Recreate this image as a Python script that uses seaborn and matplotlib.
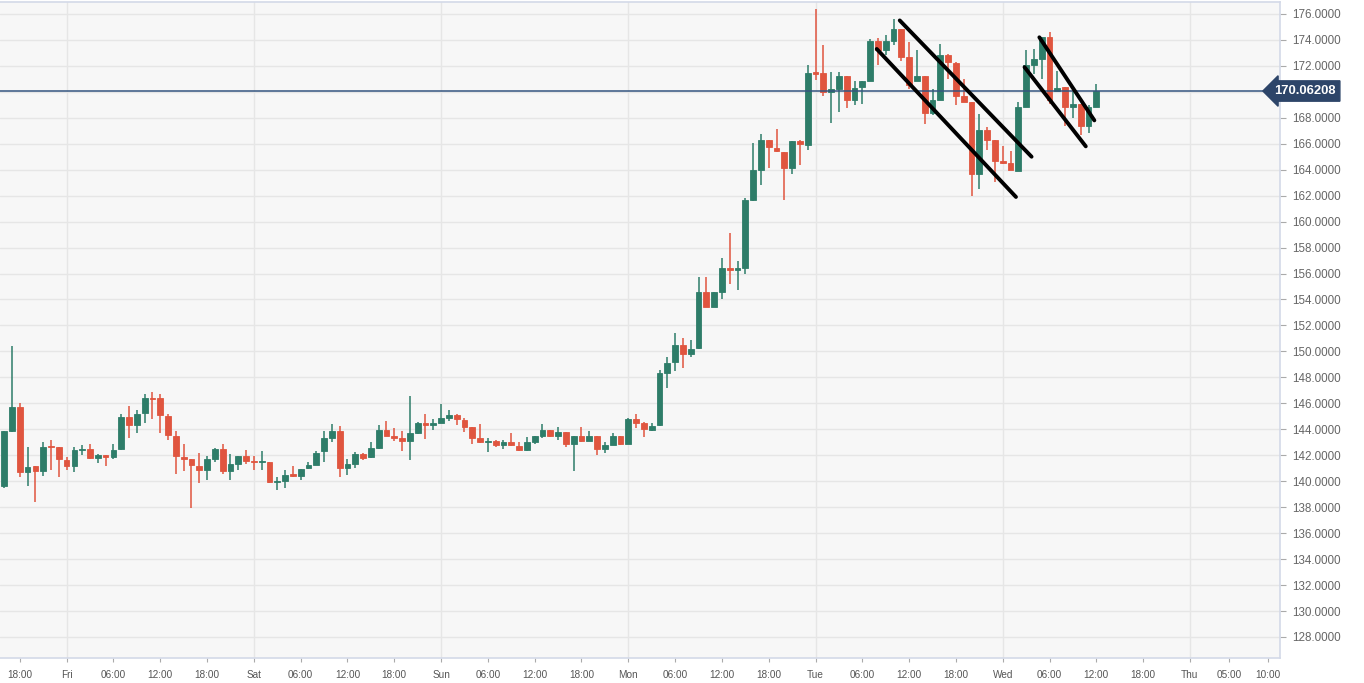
import numpy as np
import pandas as pd
import matplotlib
matplotlib.use("Agg")
import matplotlib.pyplot as plt
import matplotlib.transforms as mtransforms
import seaborn as sns

# hourly candles, first one at Thu 16:00 (hours counted from Thu 00:00)
start_hour = 16

opens = [139.6, 143.9, 145.7, 140.7, 141.15, 140.8, 142.7, 142.6, 141.6, 141.2,
         142.4, 142.5, 141.8, 142.0, 141.9, 142.45, 144.95, 144.3, 145.25, 146.4,
         146.4, 145.0, 143.5, 141.9, 141.7, 141.2, 140.9, 141.75, 142.45, 140.8,
         141.3, 141.95, 141.5, 141.5, 141.5, 139.95, 140.0, 140.55, 140.4, 141.0,
         141.25, 142.3, 143.35, 143.9, 141.05, 141.35, 142.1, 141.85, 142.55, 143.95,
         143.5, 143.35, 143.1, 143.7, 144.45, 144.3, 144.5, 144.9, 145.1, 144.75,
         144.15, 143.3, 143.0, 143.1, 142.8, 143.0, 142.75, 142.4, 143.05, 143.5,
         143.95, 143.45, 143.8, 142.85, 143.5, 143.1, 143.5, 142.5, 142.8, 143.45,
         142.9, 144.8, 144.45, 143.95, 144.3, 148.35, 149.15, 150.5, 149.8, 150.25,
         154.6, 153.45, 154.55, 156.45, 156.3, 156.4, 161.65, 163.95, 166.25, 165.7,
         165.35, 164.15, 166.2, 165.9, 171.5, 171.45, 169.95, 170.25, 171.25, 169.4,
         170.35, 170.8, 173.95, 173.25, 173.95, 174.85, 172.65, 170.8, 171.2, 168.35,
         169.35, 172.8, 172.2, 169.65, 169.25, 163.65, 167.05, 166.3, 164.65, 164.5,
         163.9, 168.8, 172.1, 172.55, 174.2, 170.1, 170.35, 168.8, 169.1, 167.4,
         168.8]
highs = [143.9, 150.4, 146.0, 142.6, 141.15, 143.0, 143.2, 142.6, 141.9, 142.6,
         142.8, 142.9, 142.1, 142.05, 142.9, 145.15, 145.8, 145.5, 146.75, 146.9,
         146.75, 145.2, 143.9, 142.9, 141.7, 142.2, 141.95, 142.55, 142.9, 142.1,
         141.95, 142.4, 141.95, 142.35, 141.5, 140.3, 140.85, 141.15, 140.95, 141.5,
         142.3, 143.9, 144.4, 144.25, 141.7, 142.25, 142.15, 143.05, 144.35, 144.65,
         144.1, 143.9, 146.6, 144.55, 145.2, 144.8, 145.95, 145.45, 145.2, 144.9,
         144.15, 144.4, 143.3, 143.2, 143.15, 143.7, 143.05, 143.4, 143.5, 144.4,
         143.95, 144.15, 143.8, 143.5, 144.15, 143.9, 143.5, 143.05, 143.75, 143.5,
         144.9, 145.2, 144.6, 144.45, 148.6, 149.55, 151.45, 151.0, 150.85, 155.75,
         155.75, 154.55, 157.2, 159.1, 156.95, 161.8, 166.05, 166.75, 166.25, 167.15,
         165.35, 166.2, 166.25, 172.1, 176.4, 173.6, 171.5, 171.5, 171.25, 170.85,
         170.8, 174.1, 174.15, 174.35, 175.6, 174.85, 173.8, 173.2, 171.2, 170.25,
         173.7, 172.9, 172.3, 171.0, 169.25, 168.3, 167.3, 166.3, 165.85, 165.45,
         169.2, 173.2, 173.3, 174.25, 174.6, 171.6, 170.4, 170.1, 169.1, 168.95,
         170.6]
lows = [139.5, 143.8, 140.3, 139.6, 138.4, 140.4, 140.9, 140.3, 140.9, 140.7,
        142.05, 141.7, 141.4, 141.2, 141.7, 142.4, 143.3, 143.7, 144.5, 144.8,
        143.7, 143.2, 140.55, 140.8, 137.9, 139.9, 140.1, 141.5, 140.55, 140.1,
        140.85, 141.35, 140.85, 140.9, 139.9, 139.3, 139.5, 140.3, 140.1, 140.95,
        141.25, 141.5, 143.0, 140.3, 140.45, 141.05, 141.6, 141.8, 142.5, 143.5,
        143.1, 142.35, 141.65, 143.65, 143.25, 143.95, 144.5, 144.65, 144.35, 143.8,
        142.85, 142.95, 142.25, 142.6, 142.5, 142.75, 142.35, 142.3, 142.85, 143.35,
        143.4, 143.2, 142.6, 140.75, 143.0, 143.1, 142.05, 142.15, 142.8, 142.8,
        142.9, 144.1, 143.4, 143.9, 144.25, 147.15, 148.5, 148.75, 149.55, 150.2,
        153.45, 153.4, 154.0, 155.2, 154.75, 156.0, 161.6, 162.8, 164.1, 165.35,
        161.7, 163.7, 164.35, 165.5, 170.9, 169.7, 167.6, 168.45, 168.75, 168.95,
        169.1, 170.8, 172.05, 172.8, 173.6, 172.4, 170.25, 170.8, 167.55, 168.2,
        169.35, 171.0, 168.95, 169.25, 161.95, 162.55, 165.5, 163.05, 164.45, 163.95,
        163.9, 168.8, 171.4, 171.0, 169.05, 170.1, 167.35, 168.0, 166.65, 166.8,
        168.8]
closes = [143.9, 145.7, 140.7, 141.1, 140.8, 142.6, 142.6, 141.7, 141.2, 142.4,
          142.5, 141.8, 142.0, 141.9, 142.4, 144.95, 144.3, 145.2, 146.4, 146.35,
          145.1, 143.55, 141.95, 141.75, 141.25, 140.9, 141.7, 142.45, 140.8, 141.3,
          141.95, 141.55, 141.45, 141.55, 139.95, 140.05, 140.5, 140.4, 140.95, 141.25,
          142.2, 143.3, 143.9, 141.05, 141.35, 142.1, 141.8, 142.55, 143.95, 143.5,
          143.35, 143.1, 143.7, 144.45, 144.3, 144.5, 144.9, 145.1, 144.8, 144.2,
          143.3, 143.0, 143.1, 142.8, 143.0, 142.8, 142.4, 143.05, 143.5, 143.95,
          143.45, 143.8, 142.85, 143.5, 143.1, 143.5, 142.5, 142.8, 143.45, 142.9,
          144.8, 144.45, 144.0, 144.25, 148.3, 149.1, 150.5, 149.8, 150.2, 154.6,
          153.45, 154.55, 156.45, 156.3, 156.4, 161.65, 163.95, 166.25, 165.75, 165.45,
          164.15, 166.2, 165.95, 171.45, 171.4, 169.95, 170.25, 171.25, 169.4, 170.3,
          170.8, 173.95, 173.25, 173.95, 174.85, 172.65, 170.5, 171.2, 168.35, 169.35,
          172.8, 172.3, 169.65, 169.25, 163.7, 167.05, 166.3, 164.65, 164.5, 163.95,
          168.8, 172.1, 172.55, 174.2, 169.35, 170.3, 168.8, 169.1, 167.4, 168.8,
          170.1]

last_price = 170.06208

# hand-drawn trend channels: (hour, price) start -> end
trend_lines = [
    ((130.8, 175.5), (147.7, 165.0)),
    ((127.85, 173.3), (145.7, 161.9)),
    ((148.7, 174.2), (155.75, 167.8)),
    ((146.8, 171.9), (154.65, 165.8)),
]

day_hours = [24, 48, 72, 96, 120, 144, 168]
day_labels = ["Fri", "Sat", "Sun", "Mon", "Tue", "Wed", "Thu"]
hour_ticks = [18, 30, 36, 42, 54, 60, 66, 78, 84, 90, 102, 108, 114,
              126, 132, 138, 150, 156, 162, 173, 178]
hour_labels = ["18:00", "06:00", "12:00", "18:00", "06:00", "12:00", "18:00",
               "06:00", "12:00", "18:00", "06:00", "12:00", "18:00",
               "06:00", "12:00", "18:00", "06:00", "12:00", "18:00",
               "05:00", "10:00"]
price_ticks = list(range(128, 177, 2))

UP = "#2e7d69"
DOWN = "#e0553f"
BG = "#f7f7f7"
GRID = "#e6e6e6"
FRAME = "#d3d9e8"
TAG = "#2d4569"

df = pd.DataFrame({"open": opens, "high": highs, "low": lows, "close": closes})
df["hour"] = start_hour + np.arange(len(df))
df["up"] = df["close"] >= df["open"]

sns.set_style("whitegrid", {"axes.facecolor": BG, "grid.color": GRID})
plt.rcParams["font.family"] = ["Liberation Sans", "DejaVu Sans"]

fig = plt.figure(figsize=(13.64, 6.83), dpi=100)
fig.patch.set_facecolor("white")
ax = fig.add_axes([0, 25 / 683, 1280 / 1364, 656 / 683])

colors = np.where(df["up"], UP, DOWN)
ax.vlines(df["hour"], df["low"], df["high"], colors=colors, linewidth=1.1, zorder=3)
body_lo = np.minimum(df["open"], df["close"])
body_h = np.maximum(np.abs(df["close"] - df["open"]), 0.08)
ax.bar(df["hour"], body_h, bottom=body_lo, width=0.72, color=colors,
       edgecolor=colors, linewidth=0.6, zorder=4)

for (x0, y0), (x1, y1) in trend_lines:
    seg = pd.DataFrame({"x": [x0, x1], "y": [y0, y1]})
    sns.lineplot(data=seg, x="x", y="y", ax=ax, color="black", linewidth=2.8,
                 solid_capstyle="round", zorder=6)

ax.axhline(last_price, color="#34557f", linewidth=1.1, zorder=5)
trans = mtransforms.blended_transform_factory(ax.transAxes, ax.transData)
ax.text(1.0195, last_price, f"{last_price:.5f}", transform=trans, ha="center",
        va="center", color="white", fontsize=9.4, fontweight="bold", clip_on=False,
        zorder=10,
        bbox=dict(boxstyle="larrow,pad=0.32", facecolor=TAG, edgecolor=TAG))

ax.set_xlim(15.45, 179.55)
ax.set_ylim(126.38, 176.92)

# the 170 label sits under the price tag, as in the original
ax.yaxis.tick_right()
ax.set_yticks(price_ticks)
ax.set_yticklabels(["" if p == 170 else f"{p:.4f}" for p in price_ticks])
ax.tick_params(axis="y", which="major", length=4, width=0.8, color="#aaaaaa",
               labelsize=8.4, labelcolor="#666666", pad=5, right=True, left=False)

ax.set_xticks(day_hours)
ax.set_xticklabels(day_labels)
ax.set_xticks(hour_ticks, minor=True)
ax.set_xticklabels(hour_labels, minor=True)
ax.tick_params(axis="x", which="both", length=3, width=0.8, color="#aaaaaa",
               labelsize=7.2, labelcolor="#555555", pad=6, bottom=True)

ax.grid(axis="y", color=GRID, linewidth=1.0)
ax.grid(axis="x", which="major", color=GRID, linewidth=1.0)
ax.grid(axis="x", which="minor", visible=False)
ax.set_axisbelow(True)

for side in ["top", "right", "bottom"]:
    ax.spines[side].set_visible(True)
    ax.spines[side].set_color(FRAME)
    ax.spines[side].set_linewidth(1.2)
ax.spines["left"].set_visible(False)

ax.set_xlabel("")
ax.set_ylabel("")
if ax.get_legend() is not None:
    ax.get_legend().remove()

fig.savefig("out.png", dpi=100, facecolor="white")
